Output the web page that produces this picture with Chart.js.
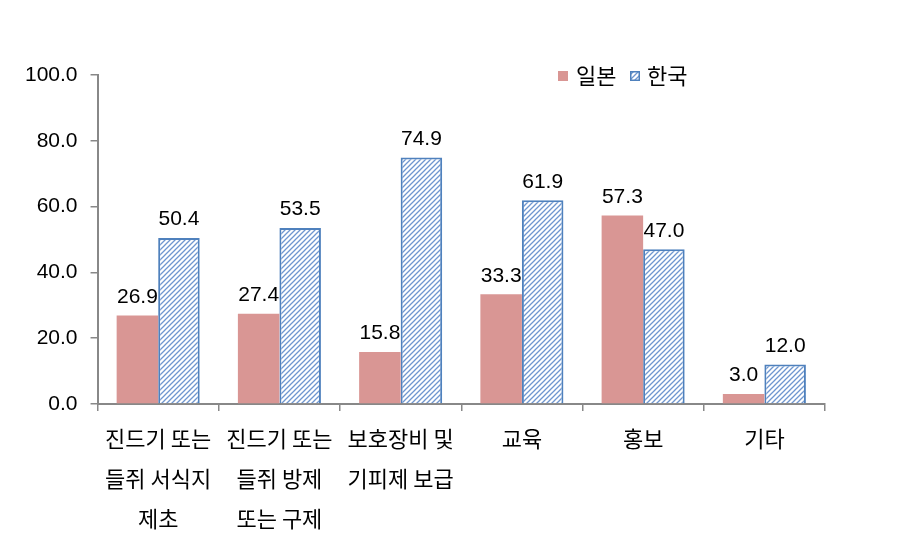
<!DOCTYPE html>
<html>
<head>
<meta charset="utf-8">
<script src="https://cdn.jsdelivr.net/npm/chart.js@4"></script>
<style>
html,body{margin:0;padding:0;background:#fff;}
#wrap{width:913px;height:544px;}
</style>
</head>
<body>
<div id="wrap"><canvas id="c" width="913" height="544"></canvas></div>
<script>
const categories = [
  ["진드기 또는", "들쥐 서식지", "제초"],
  ["진드기 또는", "들쥐 방제", "또는 구제"],
  ["보호장비 및", "기피제 보급"],
  "교육",
  "홍보",
  "기타"
];
const seriesNames = ["일본", "한국"];
const japan = [26.9, 27.4, 15.8, 33.3, 57.3, 3.0];
const korea = [50.4, 53.5, 74.9, 61.9, 47.0, 12.0];

const PINK = "#D99694";
const BLUE = "#4F81BD";
const NUMFONT = "'Liberation Sans', Arial, sans-serif";
const KFONT = "'Noto Sans CJK KR', 'Noto Sans', sans-serif";

function hatch(){
  const s = 5;
  const p = document.createElement('canvas');
  p.width = s; p.height = s;
  const g = p.getContext('2d');
  g.fillStyle = '#fff'; g.fillRect(0,0,s,s);
  g.strokeStyle = '#6F96CF';
  g.lineWidth = 1.3;
  g.beginPath();
  g.moveTo(-1, s+1); g.lineTo(s+1, -1);
  g.moveTo(-1, 1); g.lineTo(1, -1);
  g.moveTo(s-1, s+1); g.lineTo(s+1, s-1);
  g.stroke();
  return document.getElementById('c').getContext('2d').createPattern(p, 'repeat');
}
const hatchPat = hatch();

const valueLabels = {
  id: 'valueLabels',
  afterDatasetsDraw(chart){
    const ctx = chart.ctx;
    ctx.save();
    ctx.font = "21px " + NUMFONT;
    ctx.fillStyle = '#000';
    ctx.textAlign = 'center';
    ctx.textBaseline = 'bottom';
    chart.data.datasets.forEach((ds, i) => {
      const meta = chart.getDatasetMeta(i);
      meta.data.forEach((bar, j) => {
        ctx.fillText(ds.data[j].toFixed(1), bar.x, bar.y - 8);
      });
    });
    ctx.restore();
  }
};

const customLegend = {
  id: 'customLegend',
  afterDraw(chart){
    const ctx = chart.ctx;
    ctx.save();
    ctx.font = "22px " + KFONT;
    ctx.textBaseline = 'middle';
    ctx.textAlign = 'left';
    const y = 76;
    ctx.fillStyle = PINK;
    ctx.fillRect(558, y - 5, 10, 10);
    ctx.fillStyle = '#000';
    ctx.fillText(seriesNames[0], 576, y);
    ctx.fillStyle = hatchPat;
    ctx.fillRect(630, y - 5, 10, 10);
    ctx.strokeStyle = BLUE; ctx.lineWidth = 1.5;
    ctx.strokeRect(630.75, y - 4.25, 8.5, 8.5);
    ctx.fillStyle = '#000';
    ctx.fillText(seriesNames[1], 647, y);
    ctx.restore();
  }
};

new Chart(document.getElementById('c'), {
  type: 'bar',
  data: {
    labels: categories,
    datasets: [
      { label: seriesNames[0], data: japan, backgroundColor: PINK, borderWidth: 0,
        barPercentage: 1.0, categoryPercentage: 0.685 },
      { label: seriesNames[1], data: korea, backgroundColor: hatchPat, borderColor: BLUE, borderWidth: 2,
        barPercentage: 1.0, categoryPercentage: 0.685 }
    ]
  },
  options: {
    responsive: false,
    animation: false,
    devicePixelRatio: 1,
    layout: { padding: { top: 75, right: 88, left: 12, bottom: -3 } },
    plugins: { legend: { display: false }, tooltip: { enabled: false } },
    scales: {
      x: {
        offset: true,
        border: { color: '#888', width: 2 },
        grid: { display: true, drawOnChartArea: false, drawTicks: true, tickLength: 7, color: '#888', lineWidth: 1.5, offset: true },
        ticks: { color: '#000', maxRotation: 0, autoSkip: false, padding: 8,
          font: { family: KFONT, size: 22, lineHeight: 1.82 } }
      },
      y: {
        min: 0, max: 100,
        border: { color: '#888', width: 2 },
        grid: { display: true, drawOnChartArea: false, drawTicks: true, tickLength: 7, color: '#888', lineWidth: 1.5 },
        ticks: { stepSize: 20, color: '#000', padding: 13,
          font: { family: NUMFONT, size: 21 },
          callback: v => Number(v).toFixed(1) }
      }
    }
  },
  plugins: [valueLabels, customLegend]
});
</script>
</body>
</html>
